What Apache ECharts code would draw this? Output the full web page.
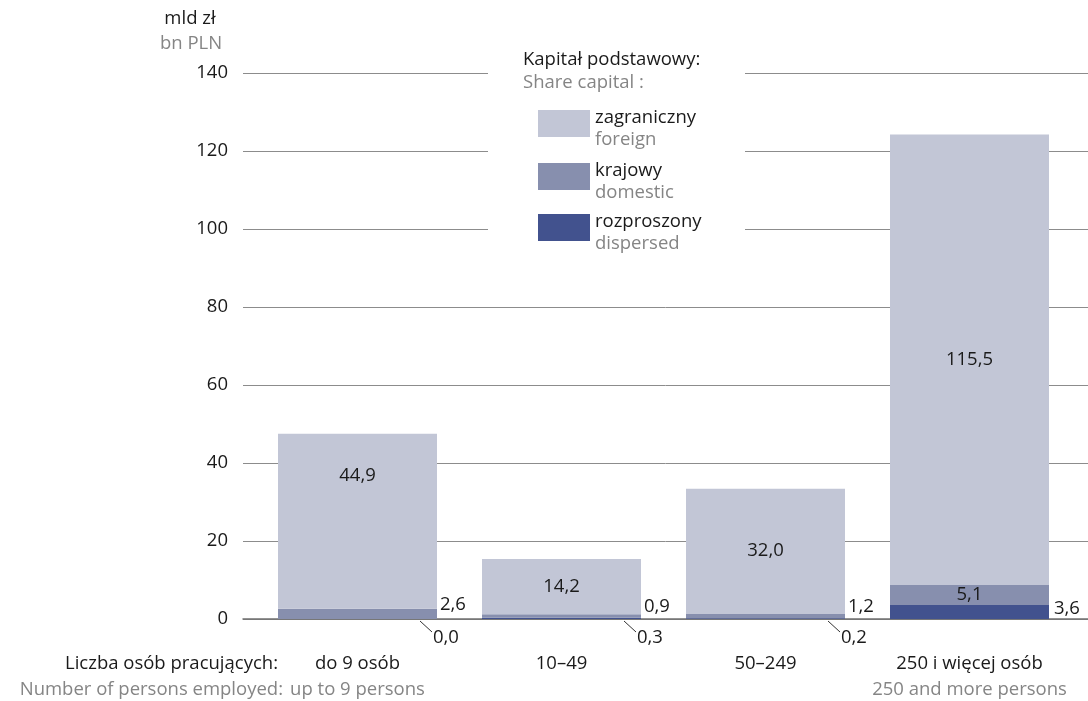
<!DOCTYPE html>
<html>
<head>
<meta charset="utf-8">
<script src="https://cdn.jsdelivr.net/npm/echarts@6/dist/echarts.min.js"></script>
<style>
html,body{margin:0;padding:0;background:#fff;}
#chart{width:1088px;height:701px;}
</style>
</head>
<body>
<div id="chart"></div>
<script>
// ---- data ----
var categoriesPL = ['do 9 osób', '10–49', '50–249', '250 i więcej osób'];
var categoriesEN = ['up to 9 persons', '', '', '250 and more persons'];
var foreign = [44.9, 14.2, 32.0, 115.5];
var domestic = [2.6, 0.9, 1.2, 5.1];
var dispersed = [0.0, 0.3, 0.2, 3.6];
var seriesNamesPL = ['zagraniczny', 'krajowy', 'rozproszony'];
var seriesNamesEN = ['foreign', 'domestic', 'dispersed'];
var yTicks = [0, 20, 40, 60, 80, 100, 120, 140];

// ---- style ----
var FONT = 'Open Sans';
var FS = 18.5;
var BLACK = '#1a1a1a';
var GREY = '#858585';
var COLORS = {zagraniczny: '#c2c6d6', krajowy: '#878fae', rozproszony: '#42528e'};
var BAR_W = 159;

function fmt(v) { return v.toFixed(1).replace('.', ','); }

var chart = echarts.init(document.getElementById('chart'), null, {renderer: 'canvas'});

var enOf = {};
seriesNamesPL.forEach(function (n, i) { enOf[n] = seriesNamesEN[i]; });

var legendTops = [103, 156, 207];
var legends = seriesNamesPL.map(function (n, i) {
  return {
    data: [n],
    left: 533,
    top: legendTops[i],
    orient: 'vertical',
    itemWidth: 52,
    itemHeight: 27,
    itemGap: 12,
    icon: 'rect',
    selectedMode: false,
    z: 10,
    formatter: function (name) { return '{a|' + name + '}\n{b|' + enOf[name] + '}'; },
    textStyle: {
      fontFamily: FONT,
      padding: [10, 0, 0, 0],
      rich: {
        a: {fontSize: FS, color: BLACK, lineHeight: 22, fontFamily: FONT},
        b: {fontSize: FS, color: GREY, lineHeight: 22, fontFamily: FONT}
      }
    }
  };
});

var labelBase = {fontFamily: FONT, fontSize: FS, color: BLACK};

var foreignData = foreign.map(function (v, i) {
  var d = {value: v};
  if (i === 0) d.label = {offset: [0, -46]};
  return d;
});
var domesticData = domestic.map(function (v, i) {
  var d = {value: v};
  if (i < 3) d.label = {position: 'right', distance: 3, offset: [0, -9]};
  return d;
});
var dispersedData = dispersed.map(function (v, i) {
  var d = {value: v};
  if (v >= 1) d.label = {show: true, position: 'right', distance: 5, offset: [0, -3]};
  return d;
});
var calloutData = [];
dispersed.forEach(function (v, i) { if (v < 1) calloutData.push([i, v]); });

function txt(x, y, text, color, align) {
  return {type: 'text', z: 4, x: x, y: y,
    style: {text: text, fontFamily: FONT, fontSize: FS, fill: color,
            textAlign: align, textVerticalAlign: 'middle'}};
}

var option = {
  backgroundColor: '#ffffff',
  animation: false,
  textStyle: {fontFamily: FONT},
  legend: legends,
  grid: [
    {left: 255.5, width: 816, top: 73, bottom: 82, containLabel: false},
    {left: 243, right: 0, top: 73, bottom: 82, containLabel: false}
  ],
  xAxis: [
    {
      type: 'category', gridIndex: 0, data: categoriesPL,
      axisLine: {show: false}, axisTick: {show: false},
      axisLabel: {
        margin: 32, fontFamily: FONT, interval: 0,
        formatter: function (val, idx) {
          var en = categoriesEN[idx];
          return en ? '{a|' + val + '}\n{b|' + en + '}' : '{a|' + val + '}';
        },
        rich: {
          a: {fontSize: FS, color: BLACK, lineHeight: 26, fontFamily: FONT},
          b: {fontSize: FS, color: GREY, lineHeight: 26, fontFamily: FONT}
        }
      }
    },
    {
      type: 'value', gridIndex: 1, min: 0, max: 1,
      axisLine: {show: true, onZero: false, lineStyle: {color: '#707070', width: 1.5}},
      axisTick: {show: false}, axisLabel: {show: false}, splitLine: {show: false}
    }
  ],
  yAxis: [
    {type: 'value', gridIndex: 0, min: 0, max: 140, interval: 20, show: false},
    {
      type: 'value', gridIndex: 1, min: yTicks[0], max: yTicks[yTicks.length - 1], interval: 20,
      axisLine: {show: false}, axisTick: {show: false},
      axisLabel: {margin: 15, fontFamily: FONT, fontSize: FS, color: BLACK},
      splitLine: {show: true, lineStyle: {color: '#8c8c8c', width: 1}}
    }
  ],
  series: [
    {
      name: 'rozproszony', type: 'bar', stack: 'cap', xAxisIndex: 0, yAxisIndex: 0,
      barWidth: BAR_W, itemStyle: {color: COLORS.rozproszony}, z: 3,
      label: Object.assign({show: false, formatter: function (p) { return fmt(p.value); }}, labelBase),
      data: dispersedData
    },
    {
      name: 'krajowy', type: 'bar', stack: 'cap', xAxisIndex: 0, yAxisIndex: 0,
      barWidth: BAR_W, itemStyle: {color: COLORS.krajowy}, z: 3,
      label: Object.assign({show: true, position: 'inside', formatter: function (p) { return fmt(p.value); }}, labelBase),
      data: domesticData
    },
    {
      name: 'zagraniczny', type: 'bar', stack: 'cap', xAxisIndex: 0, yAxisIndex: 0,
      barWidth: BAR_W, itemStyle: {color: COLORS.zagraniczny}, z: 3,
      label: Object.assign({show: true, position: 'inside', formatter: function (p) { return fmt(p.value); }}, labelBase),
      data: foreignData
    },
    {
      type: 'custom', xAxisIndex: 0, yAxisIndex: 0, z: 5, silent: true,
      data: calloutData,
      renderItem: function (params, api) {
        var p = api.coord([api.value(0), api.value(1)]);
        var rx = p[0] + BAR_W / 2;
        var y0 = api.coord([api.value(0), 0])[1];
        return {
          type: 'group',
          children: [
            {type: 'line', shape: {x1: rx - 17, y1: y0 + 2, x2: rx - 5, y2: y0 + 13},
             style: {stroke: '#333', lineWidth: 1}},
            {type: 'text', x: rx - 4, y: y0 + 19,
             style: {text: fmt(api.value(1)), fontFamily: FONT, fontSize: FS, fill: BLACK,
                     textAlign: 'left', textVerticalAlign: 'middle'}}
          ]
        };
      }
    }
  ],
  graphic: [
    {type: 'rect', z: 3, shape: {x: 488, y: 45, width: 257, height: 212}, style: {fill: '#ffffff'}},
    txt(523, 60, 'Kapitał podstawowy:', BLACK, 'left'),
    txt(523, 83, 'Share capital :', GREY, 'left'),
    txt(190, 19, 'mld zł', BLACK, 'center'),
    txt(191, 44, 'bn PLN', GREY, 'center'),
    txt(278, 664, 'Liczba osób pracujących:', BLACK, 'right'),
    txt(283, 690, 'Number of persons employed:', GREY, 'right')
  ]
};
chart.setOption(option);
</script>
</body>
</html>
